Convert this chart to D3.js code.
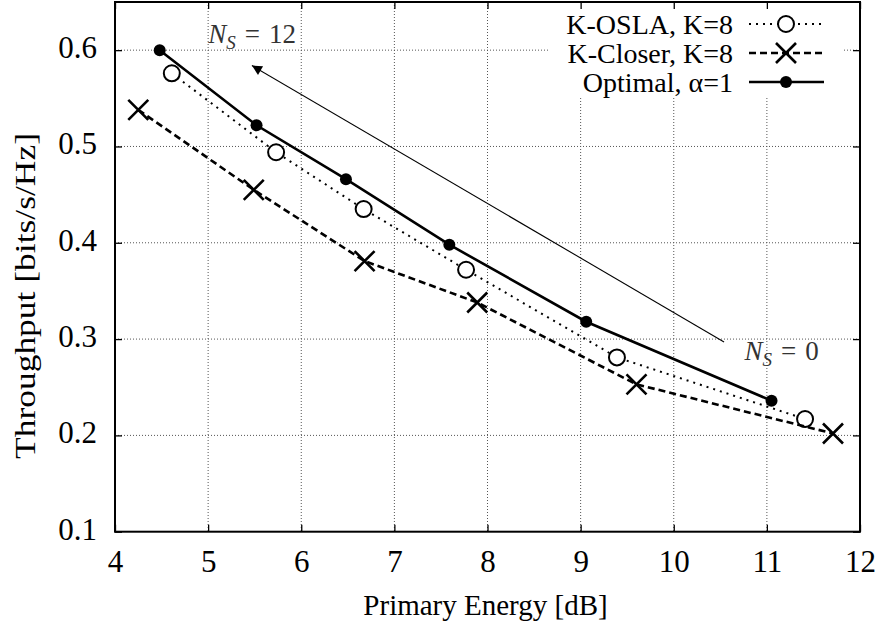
<!DOCTYPE html>
<html>
<head>
<meta charset="utf-8">
<script src="https://cdn.jsdelivr.net/npm/d3@7"></script>
<style>
  body { margin: 0; background: #fff; }
  text { font-family: "Liberation Serif", "Times New Roman", serif; fill: #000; }
</style>
</head>
<body>
<script>
// data
var xTicks = [4, 5, 6, 7, 8, 9, 10, 11, 12];
var yTicks = [0.1, 0.2, 0.3, 0.4, 0.5, 0.6];

var oslaX = [4.61, 5.73, 6.67, 7.77, 9.39, 11.41];
var oslaY = [0.576, 0.494, 0.435, 0.372, 0.281, 0.217];
var closerX = [4.25, 5.49, 6.68, 7.89, 9.60, 11.71];
var closerY = [0.538, 0.455, 0.381, 0.338, 0.253, 0.202];
var optX = [4.48, 5.52, 6.48, 7.59, 9.06, 11.05];
var optY = [0.600, 0.522, 0.466, 0.398, 0.318, 0.236];

var seriesNames = ["K-OSLA, K=8", "K-Closer, K=8", "Optimal, \u03b1=1"];
var arrowFrom = [10.54, 0.297], arrowTo = [5.47, 0.584];
var labelHigh = [5.0, 0.607], labelLow = [10.76, 0.278];

var W = 882, H = 625;
// plot frame (note: "top" is taken by window.top, so prefixed names)
var pLeft = 115, pRight = 860, pTop = 2, pBottom = 531.7;

var xScale = d3.scaleLinear().domain([4, 12]).range([pLeft, pRight]);
var yScale = d3.scaleLinear().domain([0.1, 0.65]).range([pBottom, pTop]);

var svg = d3.select("body").append("svg")
  .attr("width", W).attr("height", H);

var defs = svg.append("defs");
defs.append("marker")
  .attr("id", "head")
  .attr("viewBox", "0 0 10 10")
  .attr("refX", 10).attr("refY", 5)
  .attr("markerWidth", 15).attr("markerHeight", 10)
  .attr("markerUnits", "userSpaceOnUse")
  .attr("orient", "auto")
  .append("path").attr("d", "M0,0 L10,5 L0,10 Z").attr("fill", "#000");

// grid
var grid = svg.append("g");
grid.selectAll(".gx").data(xTicks.slice(1, -1)).enter().append("line")
  .attr("x1", xScale).attr("x2", xScale)
  .attr("y1", pTop).attr("y2", pBottom)
  .attr("stroke", "#555").attr("stroke-width", 1).attr("stroke-dasharray", "1,2");
grid.selectAll(".gy").data(yTicks.slice(1)).enter().append("line")
  .attr("x1", pLeft).attr("x2", pRight)
  .attr("y1", yScale).attr("y2", yScale)
  .attr("stroke", "#555").attr("stroke-width", 1).attr("stroke-dasharray", "1,2");

// key area hides the grid
svg.append("rect").attr("x", 550).attr("y", pTop + 1).attr("width", 293).attr("height", 94).attr("fill", "#fff");

// axes, ticks inward on all sides
var axB = d3.axisBottom(xScale).tickValues(xTicks).tickSize(-7).tickPadding(18).tickFormat(d3.format("d"));
var axT = d3.axisTop(xScale).tickValues(xTicks).tickSize(-7).tickFormat("");
var axL = d3.axisLeft(yScale).tickValues(yTicks).tickSize(-7).tickPadding(18).tickFormat(d3.format(".1f"));
var axR = d3.axisRight(yScale).tickValues(yTicks).tickSize(-7).tickFormat("");

function styleAxis(g) {
  g.select(".domain").remove();
  g.selectAll("line").attr("stroke", "#000").attr("stroke-width", 1.3);
  g.selectAll("text").style("font-size", "31px").style("font-family", "Liberation Serif, serif");
}
svg.append("g").attr("transform", "translate(0," + pBottom + ")").call(axB).call(styleAxis);
svg.append("g").attr("transform", "translate(0," + pTop + ")").call(axT).call(styleAxis);
svg.append("g").attr("transform", "translate(" + pLeft + ",0)").call(axL).call(styleAxis)
  .selectAll("text").attr("dy", "0.24em");
svg.append("g").attr("transform", "translate(" + pRight + ",0)").call(axR).call(styleAxis);

svg.append("rect")
  .attr("x", pLeft).attr("y", pTop).attr("width", pRight - pLeft).attr("height", pBottom - pTop)
  .attr("fill", "none").attr("stroke", "#000").attr("stroke-width", 2);

// axis titles
svg.append("text")
  .attr("x", (pLeft + pRight) / 2 - 2).attr("y", 615)
  .attr("text-anchor", "middle").style("font-size", "29px")
  .text("Primary Energy [dB]");
svg.append("text")
  .attr("transform", "translate(35,296) rotate(-90)")
  .attr("text-anchor", "middle").style("font-size", "29px")
  .attr("textLength", 326).attr("lengthAdjust", "spacingAndGlyphs")
  .text("Throughput [bits/s/Hz]");

// arrow + labels
svg.append("line")
  .attr("x1", xScale(arrowFrom[0])).attr("y1", yScale(arrowFrom[1]))
  .attr("x2", xScale(arrowTo[0])).attr("y2", yScale(arrowTo[1]))
  .attr("stroke", "#000").attr("stroke-width", 1.1)
  .attr("marker-end", "url(#head)");

function nsLabel(pos, val) {
  var t = svg.append("text")
    .attr("x", xScale(pos[0])).attr("y", yScale(pos[1]))
    .style("font-size", "27px").style("fill", "#333");
  t.append("tspan").style("font-style", "italic").style("fill", "#333").text("N");
  t.append("tspan").attr("dy", 6).style("font-size", "19px").style("font-style", "italic").style("fill", "#333").text("S");
  t.append("tspan").attr("dy", -6).attr("dx", 9).style("fill", "#333").text("=");
  t.append("tspan").attr("dx", 9).style("fill", "#333").text(val);
}
nsLabel(labelHigh, 12);
nsLabel(labelLow, 0);

// series
var series = [
  {xs: oslaX, ys: oslaY, dash: "2,5", width: 2, mark: "open"},
  {xs: closerX, ys: closerY, dash: "7,4", width: 2.6, mark: "cross"},
  {xs: optX, ys: optY, dash: null, width: 2.6, mark: "dot"}
];

var line = d3.line().x(function(d) { return xScale(d[0]); }).y(function(d) { return yScale(d[1]); });

function drawMark(g, mark, cx, cy) {
  if (mark === "open") {
    g.append("circle").attr("cx", cx).attr("cy", cy).attr("r", 8)
      .attr("fill", "#fff").attr("stroke", "#000").attr("stroke-width", 2);
  } else if (mark === "cross") {
    var s = 10;
    g.append("path")
      .attr("d", "M" + (cx - s) + "," + (cy - s) + "L" + (cx + s) + "," + (cy + s) +
                 "M" + (cx - s) + "," + (cy + s) + "L" + (cx + s) + "," + (cy - s))
      .attr("stroke", "#000").attr("stroke-width", 2.6).attr("fill", "none");
  } else {
    g.append("circle").attr("cx", cx).attr("cy", cy).attr("r", 6).attr("fill", "#000");
  }
}

series.forEach(function(s) {
  var pts = s.xs.map(function(x, i) { return [x, s.ys[i]]; });
  svg.append("path").datum(pts)
    .attr("d", line)
    .attr("fill", "none").attr("stroke", "#000")
    .attr("stroke-width", s.width)
    .attr("stroke-dasharray", s.dash);
  var g = svg.append("g");
  pts.forEach(function(p) { drawMark(g, s.mark, xScale(p[0]), yScale(p[1])); });
});

// key
var keyRows = [24, 53, 82];
series.forEach(function(s, i) {
  var y = keyRows[i];
  svg.append("text")
    .attr("x", 733).attr("y", y + 10)
    .attr("text-anchor", "end").style("font-size", "28px")
    .text(seriesNames[i]);
  svg.append("line")
    .attr("x1", 749).attr("x2", 824).attr("y1", y).attr("y2", y)
    .attr("stroke", "#000").attr("stroke-width", s.width)
    .attr("stroke-dasharray", s.dash);
  drawMark(svg, s.mark, 786, y);
});
</script>
</body>
</html>
